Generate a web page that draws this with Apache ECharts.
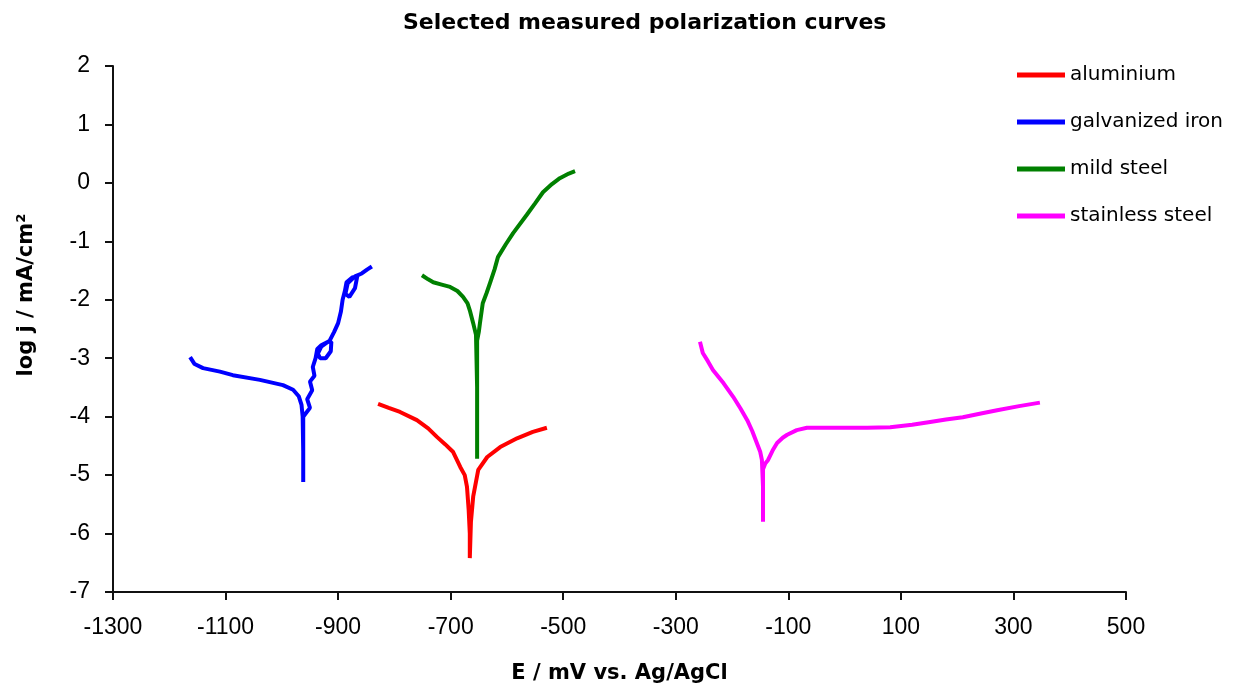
<!DOCTYPE html>
<html>
<head>
<meta charset="utf-8">
<title>polarization curves</title>
<script src="https://cdn.jsdelivr.net/npm/echarts@6/dist/echarts.min.js"></script>
<style>
	html,body{margin:0;padding:0;background:#fff;}
	#main{width:1250px;height:691px;}
</style>
</head>
<body>
<div id="main"></div>
<script>
	// values (E in mV, log j in mA/cm2)
	var seriesNames = ['aluminium', 'galvanized iron', 'mild steel', 'stainless steel'];
	var seriesColors = ['#ff0000', '#0000ff', '#008000', '#ff00ff'];

	var aluminiumE = [-829,-810,-790,-760,-740,-724,-710,-696,-683,-675,-671,-668,-666,-666,-664,-660,-651,-635,-612,-582,-554,-529];
	var aluminiumLogJ = [-3.78,-3.85,-3.92,-4.06,-4.2,-4.35,-4.47,-4.6,-4.86,-5.0,-5.2,-5.6,-6.0,-6.42,-5.8,-5.37,-4.91,-4.69,-4.52,-4.37,-4.26,-4.19];

	var galvanizedE = [-1163,-1155,-1140,-1110,-1087,-1039,-998,-980,-970,-965,-963,-962,-962,-962,-958,-950,-955,-946,-950,-942,-945,-940,-937,-930,-918,-912,-913,-922,-932,-936,-930,-915,-907,-900,-895,-892,-888,-885,-875,-866,-870,-880,-887,-883,-870,-858,-848,-840];
	var galvanizedLogJ = [-2.98,-3.1,-3.17,-3.23,-3.29,-3.37,-3.46,-3.54,-3.65,-3.8,-4.0,-4.6,-5.12,-4.0,-3.95,-3.85,-3.7,-3.55,-3.4,-3.3,-3.15,-3.0,-2.84,-2.78,-2.72,-2.72,-2.88,-3.0,-3.0,-2.92,-2.8,-2.7,-2.55,-2.4,-2.2,-2.0,-1.85,-1.7,-1.62,-1.6,-1.8,-1.95,-1.9,-1.72,-1.6,-1.55,-1.48,-1.43];

	var mildSteelE = [-751,-740,-731,-716,-701,-688,-678,-670,-666,-660,-655,-653,-653,-653,-650,-648,-643,-636,-630,-622,-616,-602,-589,-565,-550,-536,-520,-506,-490,-479];
	var mildSteelLogJ = [-1.58,-1.65,-1.7,-1.74,-1.78,-1.85,-1.95,-2.06,-2.18,-2.4,-2.6,-3.5,-4.72,-2.7,-2.55,-2.4,-2.06,-1.88,-1.71,-1.48,-1.27,-1.05,-0.86,-0.55,-0.35,-0.16,-0.02,0.08,0.16,0.2];

	var stainlessE = [-257,-252,-243,-234,-215,-198,-185,-173,-164,-156,-150,-147,-145,-145,-145,-141,-136,-128,-120,-110,-102,-85,-67,-30,4,40,81,120,152,180,210,240,271,310,347];
	var stainlessLogJ = [-2.72,-2.91,-3.05,-3.2,-3.43,-3.66,-3.86,-4.06,-4.25,-4.45,-4.6,-4.74,-5.2,-5.8,-4.9,-4.8,-4.74,-4.58,-4.45,-4.36,-4.31,-4.23,-4.19,-4.19,-4.19,-4.19,-4.18,-4.14,-4.09,-4.05,-4.01,-3.95,-3.89,-3.82,-3.76];

	var xTicks = {min: -1300, max: 500, interval: 200};
	var yTicks = {min: -7, max: 2, interval: 1};

	function pairs(xs, ys){
		var out = [];
		for(var i = 0; i < xs.length; i++){
			out.push([xs[i], ys[i]]);
		}
		return out;
	}

	var curves = [
		pairs(aluminiumE, aluminiumLogJ),
		pairs(galvanizedE, galvanizedLogJ),
		pairs(mildSteelE, mildSteelLogJ),
		pairs(stainlessE, stainlessLogJ)
	];

	var series = [];
	for(var k = 0; k < curves.length; k++){
		series.push({
			name: seriesNames[k],
			type: 'line',
			data: curves[k],
			symbol: 'none',
			showSymbol: false,
			color: seriesColors[k],
			lineStyle: {width: 4, color: seriesColors[k]}
		});
	}

	var myChart = echarts.init(document.getElementById('main'));
	var option = {
		animation: false,
		backgroundColor: '#fff',
		title: {
			text: 'Selected measured polarization curves',
			left: 403,
			top: 12,
			padding: 0,
			textStyle: {fontFamily: 'DejaVu Sans', fontSize: 22, fontWeight: 'bold', color: '#000'}
		},
		legend: {
			data: seriesNames,
			orient: 'vertical',
			left: 1017,
			top: 65,
			padding: 0,
			itemWidth: 48,
			itemHeight: 5,
			itemGap: 27,
			icon: 'rect',
			textStyle: {fontFamily: 'DejaVu Sans', fontSize: 20, lineHeight: 20, color: '#000'}
		},
		grid: {left: 113, right: 124, top: 66, bottom: 99},
		xAxis: {
			type: 'value',
			min: xTicks.min,
			max: xTicks.max,
			interval: xTicks.interval,
			name: 'E / mV vs. Ag/AgCl',
			nameLocation: 'middle',
			nameGap: 71,
			nameTextStyle: {fontFamily: 'DejaVu Sans', fontSize: 21, fontWeight: 'bold', color: '#000'},
			axisLine: {onZero: false, lineStyle: {color: '#111', width: 2}},
			axisTick: {length: 8, lineStyle: {color: '#111', width: 2}},
			axisLabel: {
				fontFamily: 'Liberation Sans', fontSize: 23, color: '#000', margin: 24,
				formatter: function(v){ return String(v); }
			},
			splitLine: {show: false}
		},
		yAxis: {
			type: 'value',
			min: yTicks.min,
			max: yTicks.max,
			interval: yTicks.interval,
			name: 'log j / mA/cm²',
			nameLocation: 'middle',
			nameGap: 76,
			nameTextStyle: {fontFamily: 'DejaVu Sans', fontSize: 21, fontWeight: 'bold', color: '#000', padding: [0, 0, 0, 68]},
			axisLine: {onZero: false, lineStyle: {color: '#111', width: 2}},
			axisTick: {length: 8, lineStyle: {color: '#111', width: 2}},
			axisLabel: {
				fontFamily: 'Liberation Sans', fontSize: 23, color: '#000', margin: 23,
				formatter: function(v){ return String(v); }
			},
			splitLine: {show: false}
		},
		series: series
	};
	myChart.setOption(option);
</script>
</body>
</html>
